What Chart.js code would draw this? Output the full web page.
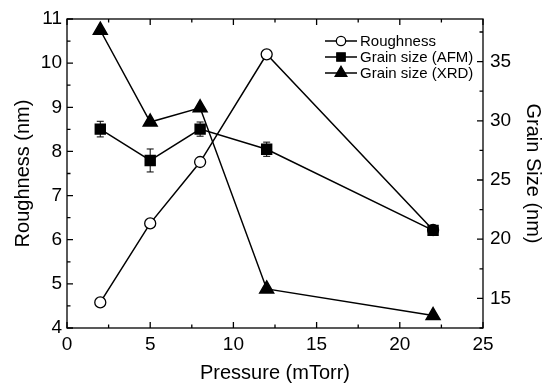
<!DOCTYPE html>
<html>
<head>
<meta charset="utf-8">
<script src="https://cdn.jsdelivr.net/npm/chart.js@4/dist/chart.umd.min.js"></script>
<style>
html, body { margin: 0; padding: 0; background: #fff; }
</style>
</head>
<body>
<canvas id="first" width="542" height="385"></canvas>
<script>
const pressure = [2, 5, 8, 12, 22];
const roughness = [4.58, 6.37, 7.76, 10.2, 6.22];
const grainAfm = [29.3, 26.65, 29.3, 27.6, 20.75];
const grainAfmErr = [0.66, 0.97, 0.6, 0.6, 0.25];
const grainXrd = [37.65, 29.9, 31.1, 15.8, 13.55];

const xTicks = [0, 5, 10, 15, 20, 25];
const leftTicks = [4, 5, 6, 7, 8, 9, 10, 11];
const rightTicks = [15, 20, 25, 30, 35];

const FONT = "'Liberation Sans', Arial, sans-serif";

function pts(ys) {
  return pressure.map((p, i) => ({x: p, y: ys[i]}));
}

// box + inward ticks, like the origin plot
const framePlugin = {
  id: "frame",
  afterDraw(chart) {
    const ctx = chart.ctx;
    const a = chart.chartArea;
    const sx = chart.scales.x, sl = chart.scales.y, sr = chart.scales.y2;
    ctx.save();
    ctx.strokeStyle = "#000";
    ctx.lineWidth = 1.3;
    ctx.strokeRect(a.left, a.top, a.right - a.left, a.bottom - a.top);
    ctx.beginPath();
    for (let v = 0; v <= 25; v += 2.5) {
      const px = sx.getPixelForValue(v);
      const len = v % 5 === 0 ? 6 : 3.5;
      ctx.moveTo(px, a.bottom); ctx.lineTo(px, a.bottom - len);
      ctx.moveTo(px, a.top); ctx.lineTo(px, a.top + len);
    }
    for (let v = 4; v <= 11; v += 0.5) {
      const py = sl.getPixelForValue(v);
      const len = v % 1 === 0 ? 6 : 3.5;
      ctx.moveTo(a.left, py); ctx.lineTo(a.left + len, py);
    }
    for (let v = 12.5; v <= 38; v += 2.5) {
      const py = sr.getPixelForValue(v);
      const len = v % 5 === 0 ? 6 : 3.5;
      ctx.moveTo(a.right, py); ctx.lineTo(a.right - len, py);
    }
    ctx.stroke();
    ctx.restore();
  }
};

const errorPlugin = {
  id: "errbars",
  afterDatasetsDraw(chart) {
    const ctx = chart.ctx;
    const sx = chart.scales.x, sr = chart.scales.y2;
    ctx.save();
    ctx.strokeStyle = "#000";
    ctx.lineWidth = 1;
    ctx.beginPath();
    pressure.forEach((p, i) => {
      const px = sx.getPixelForValue(p);
      const top = sr.getPixelForValue(grainAfm[i] + grainAfmErr[i]);
      const bot = sr.getPixelForValue(grainAfm[i] - grainAfmErr[i]);
      ctx.moveTo(px, top); ctx.lineTo(px, bot);
      ctx.moveTo(px - 3.5, top); ctx.lineTo(px + 3.5, top);
      ctx.moveTo(px - 3.5, bot); ctx.lineTo(px + 3.5, bot);
    });
    ctx.stroke();
    ctx.restore();
  }
};

const legendPlugin = {
  id: "boxLegend",
  afterDraw(chart) {
    const ctx = chart.ctx;
    ctx.save();
    ctx.font = "15px " + FONT;
    ctx.textBaseline = "middle";
    chart.data.datasets.forEach((ds, i) => {
      const y = 41 + i * 16;
      ctx.strokeStyle = "#000";
      ctx.lineWidth = 1.5;
      ctx.beginPath();
      ctx.moveTo(325, y); ctx.lineTo(357, y);
      ctx.stroke();
      ctx.fillStyle = ds.pointBackgroundColor;
      ctx.strokeStyle = "#000";
      ctx.lineWidth = 1.3;
      Chart.helpers.drawPoint(ctx, {
        pointStyle: ds.pointStyle,
        rotation: 0,
        radius: ds.pointRadius * 0.85,
        borderWidth: 1.3
      }, 341, y);
      ctx.fillStyle = "#000";
      ctx.fillText(ds.label, 360, y + 1);
    });
    ctx.restore();
  }
};

new Chart("first", {
  type: "line",
  data: {
    datasets: [{
      label: "Roughness",
      data: pts(roughness),
      yAxisID: "y",
      order: 2,
      borderColor: "#000",
      borderWidth: 1.5,
      pointStyle: "circle",
      pointRadius: 5.5,
      pointBorderWidth: 1.3,
      pointBackgroundColor: "#fff",
      pointBorderColor: "#000",
      tension: 0
    }, {
      label: "Grain size (AFM)",
      data: pts(grainAfm),
      yAxisID: "y2",
      order: 1,
      borderColor: "#000",
      borderWidth: 1.5,
      pointStyle: "rect",
      pointRadius: 7,
      pointBackgroundColor: "#000",
      pointBorderColor: "#000",
      tension: 0
    }, {
      label: "Grain size (XRD)",
      data: pts(grainXrd),
      yAxisID: "y2",
      order: 0,
      borderColor: "#000",
      borderWidth: 1.5,
      pointStyle: "triangle",
      pointRadius: 8,
      pointBackgroundColor: "#000",
      pointBorderColor: "#000",
      tension: 0
    }]
  },
  options: {
    responsive: false,
    animation: false,
    layout: { padding: { top: 19, left: 0, right: 0, bottom: 0 } },
    plugins: {
      legend: { display: false },
      tooltip: { enabled: false }
    },
    scales: {
      x: {
        type: "linear",
        min: 0, max: 25,
        afterBuildTicks: (s) => { s.ticks = xTicks.map(v => ({value: v})); },
        afterFit: (s) => { s.height = 57; },
        grid: { display: false, drawTicks: false },
        border: { display: false },
        ticks: { color: "#000", padding: 5, maxRotation: 0, font: { family: FONT, size: 19 } },
        title: { display: true, text: "Pressure (mTorr)", color: "#000", padding: 0, font: { family: FONT, size: 20 } }
      },
      y: {
        position: "left",
        min: 4, max: 11,
        afterBuildTicks: (s) => { s.ticks = leftTicks.map(v => ({value: v})); },
        afterFit: (s) => { s.width = 67; },
        grid: { display: false, drawTicks: false },
        border: { display: false },
        ticks: { color: "#000", padding: 5, font: { family: FONT, size: 19 } },
        title: { display: true, text: "Roughness (nm)", color: "#000", padding: { top: 11, bottom: 0 }, font: { family: FONT, size: 20 } }
      },
      y2: {
        position: "right",
        min: 12.5, max: 38.6,
        afterBuildTicks: (s) => { s.ticks = rightTicks.map(v => ({value: v})); },
        afterFit: (s) => { s.width = 59; },
        grid: { display: false, drawTicks: false },
        border: { display: false },
        ticks: { color: "#000", padding: 7, font: { family: FONT, size: 19 } },
        title: { display: true, text: "Grain Size (nm)", color: "#000", padding: 0, font: { family: FONT, size: 20, lineHeight: 0.9 } }
      }
    }
  },
  plugins: [errorPlugin, framePlugin, legendPlugin]
});
</script>
</body>
</html>
